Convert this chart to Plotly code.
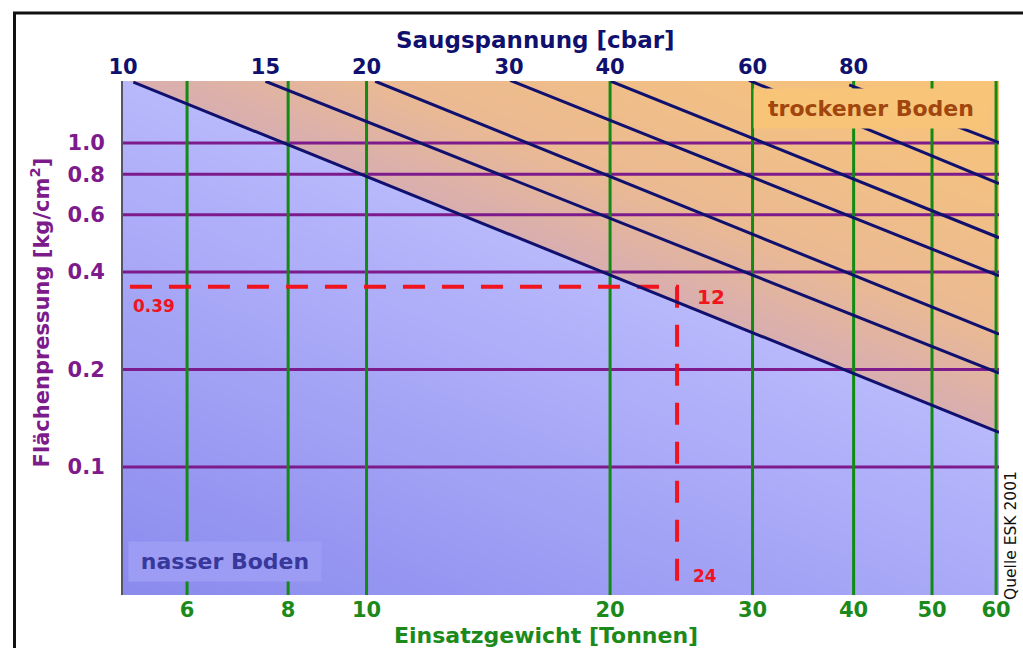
import numpy as np
import plotly.graph_objects as go

# ---------------- data ----------------
weight_ticks = [6, 8, 10, 20, 30, 40, 50, 60]                 # Einsatzgewicht [t]
weight_ticktext = ["6", "8", "10", "20", "30", "40", "50", "60"]
pressure_ticks = [0.1, 0.2, 0.4, 0.6, 0.8, 1.0]              # Flächenpressung [kg/cm²]
pressure_ticktext = ["0.1", "0.2", "0.4", "0.6", "0.8", "1.0"]
suction_ticks = [10, 15, 20, 30, 40, 60, 80]                  # Saugspannung [cbar]
suction_ticktext = ["10", "15", "20", "30", "40", "60", "80"]

# Saugspannung lines: start at top edge, end at right edge (suction-axis x, pressure y)
line_start_x = [10.3, 15.0, 20.5, 30.1, 40.1, 59.4, 79.0]
line_start_p = [1.54, 1.55, 1.55, 1.56, 1.55, 1.56, 1.51]
line_end_x = [121, 121, 121, 121, 121, 121, 121]
line_end_p = [0.128, 0.195, 0.257, 0.389, 0.510, 0.749, 1.003]

# worked example (red dashed)
example_weight = 24.2
example_pressure_drawn = 0.36
example_labels = {"p": "0.39", "s": "12", "w": "24"}

# axis extents
x_min, x_max = 5.0, 60.5
y_min, y_max = 0.0403, 1.553

W, H = 1023, 648
ML, MR, MT, MB = 123, 20, 81, 53
PW, PH = W - ML - MR, H - MT - MB


def px(xp):
    return (xp - ML) / PW


def py(yp):
    return (H - MB - yp) / PH


FONT = "DejaVu Sans"
GREEN = "#138a13"
PURPLE = "#7d1a8c"
NAVY = "#10106e"
RED = "#f0141e"

fig = go.Figure()

# ---- background: blue below the 10 cbar line, orange above ----
lx0, lx1 = np.log10(line_start_x[0] / 2), np.log10(line_end_x[0] / 2)
ly0, ly1 = np.log10(line_start_p[0]), np.log10(line_end_p[0])
gx = np.logspace(np.log10(x_min), np.log10(x_max), 240)
gy = np.logspace(np.log10(y_min), np.log10(y_max), 180)
LX, LY = np.meshgrid(np.log10(gx), np.log10(gy))
line_y = ly0 + (LX - lx0) * (ly1 - ly0) / (lx1 - lx0)
z = np.round(LY - line_y, 3)
cmin, cmax = -1.6, 1.1
b = (0 - cmin) / (cmax - cmin)
fig.add_trace(go.Heatmap(
    x=gx, y=gy, z=z, zmin=cmin, zmax=cmax, zsmooth="best", showscale=False,
    hoverinfo="skip",
    colorscale=[[0.0, "#8a8aee"], [b - 0.0005, "#b8b8fc"], [b, "#d8aeb0"],
                [b + 0.12, "#ebba92"], [1.0, "#f9c575"]],
))

# ---- horizontal purple lines ----
for v in pressure_ticks:
    fig.add_trace(go.Scatter(x=[x_min, x_max], y=[v, v], mode="lines",
                             line=dict(color=PURPLE, width=3), hoverinfo="skip",
                             showlegend=False))
# ---- vertical green lines ----
for v in weight_ticks:
    fig.add_trace(go.Scatter(x=[v, v], y=[y_min, y_max], mode="lines",
                             line=dict(color=GREEN, width=3), hoverinfo="skip",
                             showlegend=False))
# ---- Saugspannung lines (on the suction axis) ----
for xs, ps, xe, pe in zip(line_start_x, line_start_p, line_end_x, line_end_p):
    fig.add_trace(go.Scatter(x=[xs, xe], y=[ps, pe], xaxis="x2", mode="lines",
                             line=dict(color=NAVY, width=3), hoverinfo="skip",
                             showlegend=False))
# ---- red example ----
fig.add_trace(go.Scatter(
    x=[5.1, example_weight, example_weight],
    y=[example_pressure_drawn, example_pressure_drawn, 0.044],
    mode="lines", line=dict(color=RED, width=4, dash="22px,17px"),
    hoverinfo="skip", showlegend=False))

ann = []
def add_text(text, xp, yp, size, color, bold=True, angle=0, **kw):
    ann.append(dict(text=text, x=px(xp), y=py(yp), xref="paper", yref="paper",
                    showarrow=False, textangle=angle, xanchor="center", yanchor="middle",
                    font=dict(family=FONT, size=size, color=color,
                              weight="bold" if bold else "normal"), **kw))

add_text("Saugspannung [cbar]", 537, 40, 23, NAVY)
add_text("Einsatzgewicht [Tonnen]", 548, 635, 22, "#1b8a1b")
add_text("Flächenpressung [kg/cm<sup>2</sup>]", 40, 312, 21, PURPLE, angle=-90)
add_text("trockener Boden", 874, 108.5, 22, "#a0460e", bgcolor="#f8c478",
         width=232, height=37)
add_text("nasser Boden", 225, 561.5, 22, "#38389a", bgcolor="#9c9cf4",
         width=190, height=37)
add_text(example_labels["p"], 154, 306, 17, RED)
add_text(example_labels["s"], 714, 297, 20, RED)
add_text(example_labels["w"], 708, 576, 17, RED)
add_text("Quelle ESK 2001", 1015, 535, 15.5, "#111111", bold=False, angle=-90)

fig.update_layout(
    width=W, height=H, margin=dict(l=ML, r=MR, t=MT, b=MB),
    paper_bgcolor="white", plot_bgcolor="white", showlegend=False,
    xaxis=dict(type="log", range=[np.log10(x_min), np.log10(x_max)],
               tickvals=weight_ticks, ticktext=weight_ticktext, showgrid=False,
               zeroline=False, ticks="", ticklabelstandoff=0,
               tickfont=dict(family=FONT, size=21, color="#1b8a1b", weight="bold")),
    xaxis2=dict(type="log", overlaying="x", side="top",
                range=[np.log10(2 * x_min), np.log10(2 * x_max)],
                tickvals=suction_ticks, ticktext=suction_ticktext, showgrid=False,
                zeroline=False, ticks="", ticklabelstandoff=2,
                tickfont=dict(family=FONT, size=21, color=NAVY, weight="bold")),
    yaxis=dict(type="log", range=[np.log10(y_min), np.log10(y_max)],
               tickvals=pressure_ticks, ticktext=pressure_ticktext, showgrid=False,
               zeroline=False, ticks="", ticklabelstandoff=12,
               showline=True, linecolor="#555566", linewidth=2, layer="above traces",
               tickfont=dict(family=FONT, size=21, color=PURPLE, weight="bold")),
    annotations=ann,
    shapes=[dict(type="rect", xref="paper", yref="paper",
                 x0=px(14), x1=px(1060), y0=py(690), y1=py(13),
                 line=dict(color="#111111", width=3), fillcolor="rgba(0,0,0,0)")],
)

fig.write_html("out.html", config={"displayModeBar": False},
               post_script="document.body.style.margin='0';"
                           "document.body.style.overflow='hidden';")
